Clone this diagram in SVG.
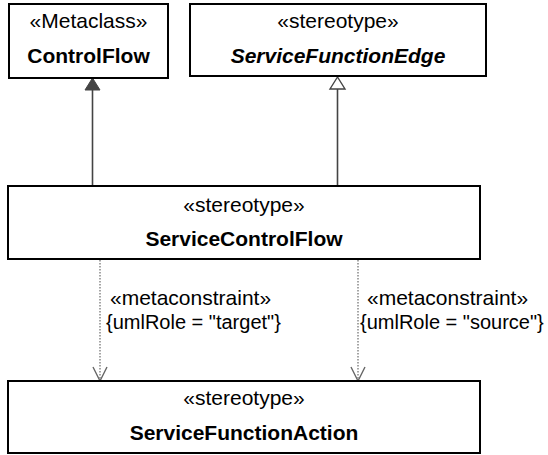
<svg xmlns="http://www.w3.org/2000/svg" width="548" height="455" viewBox="0 0 548 455">
<style>
.box{fill:#fff;stroke:#000;stroke-width:2}
.t{font-family:"Liberation Sans",Arial,sans-serif;font-size:21px;fill:#000;text-anchor:middle}
.b{font-weight:bold}
.i{font-style:italic}
.lbl{font-family:"Liberation Sans",Arial,sans-serif;font-size:21px;fill:#000}
.lbl2{font-family:"Liberation Sans",Arial,sans-serif;font-size:20px;fill:#000}
.solid{stroke:#444;stroke-width:1.6;fill:none}
.dash{stroke:#888;stroke-width:1.5;stroke-dasharray:1.5 1.5;fill:none}
.open{stroke:#666;stroke-width:1.4;fill:none}
</style>
<rect width="548" height="455" fill="#fff"/>
<g id="connectors">
  <line class="solid" x1="92.5" y1="89" x2="92.5" y2="186"/>
  <polygon points="92.5,78 85,90 100,90" fill="#444" stroke="#444" stroke-width="1"/>
  <line class="solid" x1="337.5" y1="89" x2="337.5" y2="186"/>
  <polygon points="337.5,77 330,89 345,89" fill="#fff" stroke="#444" stroke-width="1.4"/>
  <line class="dash" x1="100" y1="260" x2="100" y2="380"/>
  <polyline class="open" points="93,367 100,381 107,367"/>
  <line class="dash" x1="358" y1="260" x2="358" y2="380"/>
  <polyline class="open" points="351,367 358,381 365,367"/>
  <text class="lbl" x="110" y="305">«metaconstraint»</text>
  <text class="lbl2" x="106" y="329">{umlRole = "target"}</text>
  <text class="lbl" x="367" y="305">«metaconstraint»</text>
  <text class="lbl2" x="360" y="329">{umlRole = "source"}</text>
</g>
<g id="ControlFlow">
  <rect class="box" x="9" y="4" width="159" height="74"/>
  <text class="t" x="88.5" y="28">«Metaclass»</text>
  <text class="t b" x="88.5" y="63">ControlFlow</text>
</g>
<g id="ServiceFunctionEdge">
  <rect class="box" x="190" y="4" width="296" height="72"/>
  <text class="t" x="338" y="28">«stereotype»</text>
  <text class="t b i" x="338" y="63">ServiceFunctionEdge</text>
</g>
<g id="ServiceControlFlow">
  <rect class="box" x="8" y="186" width="472" height="73"/>
  <text class="t" x="244" y="212">«stereotype»</text>
  <text class="t b" x="244" y="246">ServiceControlFlow</text>
</g>
<g id="ServiceFunctionAction">
  <rect class="box" x="8" y="381" width="472" height="72"/>
  <text class="t" x="244" y="405">«stereotype»</text>
  <text class="t b" x="244" y="440">ServiceFunctionAction</text>
</g>
</svg>
